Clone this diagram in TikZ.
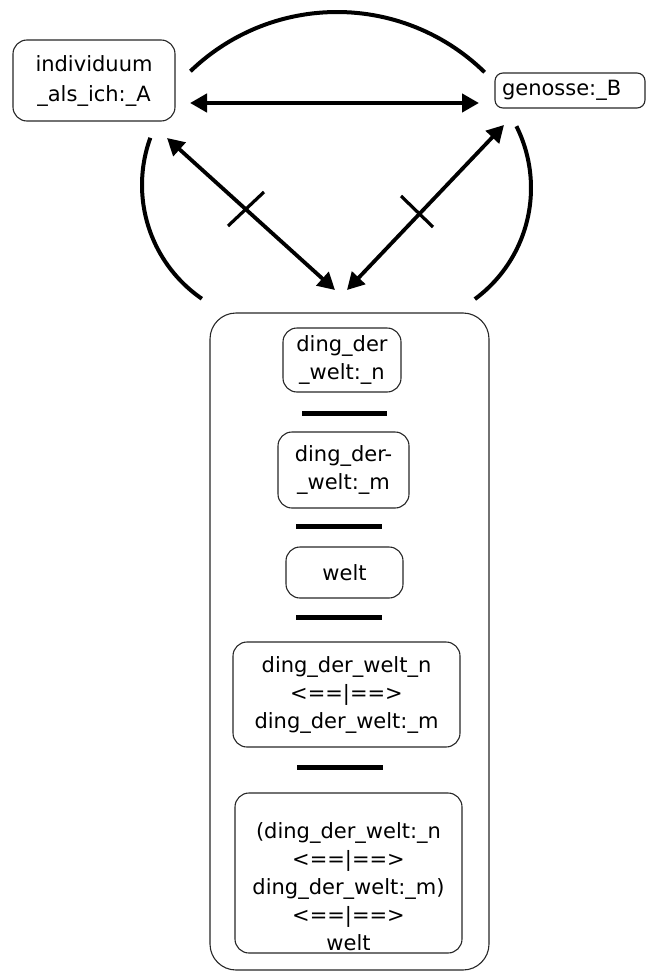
\documentclass[tikz,border=0pt]{standalone}
\usepackage{fontspec}
\setmainfont{DejaVu Sans}
\usetikzlibrary{arrows.meta}
\newcommand\diafs{\fontsize{21}{28}\selectfont}
\begin{document}
\begin{tikzpicture}[x=1pt,y=-1pt,
  box/.style={draw=black!85, line width=1.1pt, rounded corners=14pt, align=center, inner sep=0pt, font=\diafs},
  bigbox/.style={draw=black!85, line width=1.1pt, rounded corners=26pt, inner sep=0pt},
  txt/.style={align=center, inner sep=0pt, font=\diafs},
  arcline/.style={line width=4pt},
  arr/.style={line width=4.4pt, {Triangle[length=17pt,width=18pt]}-{Triangle[length=17pt,width=18pt]}},
  darr/.style={line width=3.8pt, {Triangle[length=17pt,width=18pt]}-{Triangle[length=17pt,width=18pt]}},
  tick/.style={line width=3.2pt},
  bar/.style={line width=5pt}]
\useasboundingbox (0,0) rectangle (646,971);

% top nodes
\node[box, minimum width=162pt, minimum height=81pt] (A) at (94,80.5) {individuum\\[2pt]\_als\_ich:\_A};
\node[box, rounded corners=8pt, minimum width=150pt, minimum height=35pt, text width=136pt, align=left, inner xsep=7pt] (B) at (570,90.5) {genosse:\_B};

% big container
\node[bigbox, minimum width=279pt, minimum height=657pt] (W) at (349.5,641.5) {};

% inner boxes
\node[box, minimum width=118pt, minimum height=64pt] (n1) at (342,360) {ding\_der\\\_welt:\_n};
\node[box, minimum width=131pt, minimum height=76pt] (n2) at (343.5,470) {ding\_der-\\\_welt:\_m};
\node[box, minimum width=117pt, minimum height=51pt] (n3) at (344.5,572.5) {welt};
\node[box, minimum width=227pt, minimum height=105pt] (n4) at (346.5,694.5) {ding\_der\_welt\_n\\<==|==>\\ding\_der\_welt:\_m};
\node[box, minimum width=227pt, minimum height=160pt] (n5) at (348.5,873) {};
\node[txt, anchor=north] (n5t) at (348.5,822) {(ding\_der\_welt:\_n\\<==|==>\\ding\_der\_welt:\_m)\\<==|==>\\welt};

% separator bars
\draw[bar] (302,413) -- (387,413);
\draw[bar] (296,526) -- (382,526);
\draw[bar] (296,617) -- (382,617);
\draw[bar] (297,767) -- (383,767);

% arcs
\draw[arcline] plot[domain=45.6:134, samples=60] ({337+211*cos(\x)},{223-211*sin(\x)});
\draw[arcline] plot[domain=160:235.5, samples=50] ({280+138*cos(\x)},{185-138*sin(\x)});
\draw[arcline] plot[domain=-53.6:26.6, samples=50] ({393+138*cos(\x)},{188-138*sin(\x)});

% arrows
\coordinate (hA) at (190,103);
\coordinate (hB) at (479,103);
\coordinate (dA) at (167,138);
\coordinate (dW1) at (335,290);
\coordinate (dB) at (504,125);
\coordinate (dW2) at (347,290);
\draw[arr] (hA) -- (hB);
\draw[darr] (dA) -- (dW1);
\draw[darr] (dB) -- (dW2);

% cross ticks
\coordinate (tA1) at (228,226);
\coordinate (tA2) at (264,192);
\coordinate (tB1) at (401,196);
\coordinate (tB2) at (433,227);
\draw[tick] (tA1) -- (tA2);
\draw[tick] (tB1) -- (tB2);
\end{tikzpicture}
\end{document}
